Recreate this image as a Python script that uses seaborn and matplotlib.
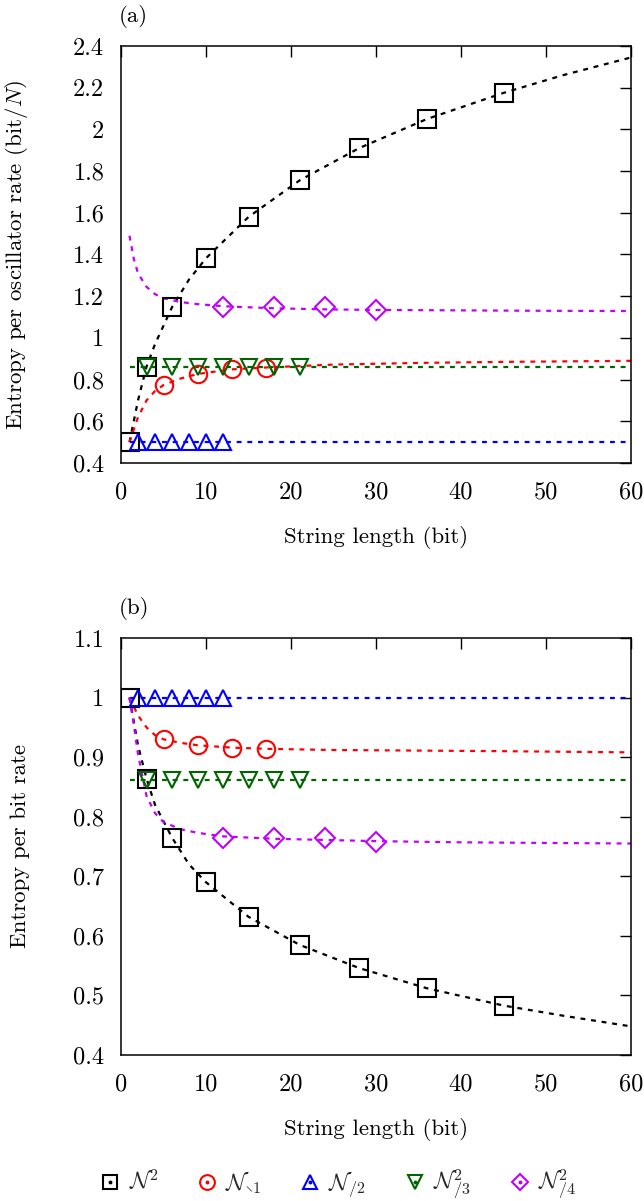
import numpy as np
import pandas as pd
import matplotlib
matplotlib.use("Agg")
import matplotlib.pyplot as plt
import seaborn as sns
from matplotlib.lines import Line2D
from matplotlib.legend_handler import HandlerTuple
from matplotlib.ticker import FuncFormatter, MultipleLocator

# ---------------- data ----------------
# N^2 (black squares)
sq_x = [1, 3, 6, 10, 15, 21, 28, 36, 45]
sq_a = [0.50, 0.862, 1.147, 1.382, 1.58, 1.755, 1.91, 2.05, 2.175]
sq_b = [1.00, 0.864, 0.765, 0.690, 0.632, 0.585, 0.546, 0.512, 0.483]
sq_cx = [1, 2, 3, 4, 6, 8, 10, 15, 21, 28, 36, 45, 52, 60]
sq_ca = [0.50, 0.70, 0.862, 0.97, 1.147, 1.28, 1.382, 1.58, 1.755, 1.91, 2.05, 2.175, 2.26, 2.345]
sq_cb = [1.00, 0.92, 0.864, 0.82, 0.765, 0.72, 0.690, 0.632, 0.585, 0.546, 0.512, 0.483, 0.466, 0.448]

# N_\1 (red circles)
ci_x = [5, 9, 13, 17]
ci_a = [0.774, 0.827, 0.849, 0.858]
ci_b = [0.930, 0.920, 0.915, 0.913]
ci_cx = [1, 2, 3, 4, 5, 7, 9, 13, 17, 25, 35, 45, 60]
ci_ca = [0.50, 0.62, 0.70, 0.745, 0.774, 0.805, 0.827, 0.849, 0.858, 0.872, 0.880, 0.885, 0.890]
ci_cb = [1.00, 0.97, 0.95, 0.937, 0.930, 0.924, 0.920, 0.916, 0.914, 0.912, 0.911, 0.910, 0.908]

# N_/2 (blue triangles)
tu_x = [2, 4, 6, 8, 10, 12]
tu_a = [0.5, 0.5, 0.5, 0.5, 0.5, 0.5]
tu_b = [1.0, 1.0, 1.0, 1.0, 1.0, 1.0]
tu_cx = [1, 60]
tu_ca = [0.5, 0.5]
tu_cb = [1.0, 1.0]

# N^2_/3 (green down triangles)
td_x = [3, 6, 9, 12, 15, 18, 21]
td_a = [0.862, 0.862, 0.862, 0.862, 0.862, 0.862, 0.862]
td_b = [0.862, 0.862, 0.862, 0.862, 0.862, 0.862, 0.862]
td_cx = [1, 60]
td_ca = [0.862, 0.862]
td_cb = [0.862, 0.862]

# N^2_/4 (magenta diamonds)
di_x = [12, 18, 24, 30]
di_a = [1.147, 1.150, 1.147, 1.132]
di_b = [0.765, 0.765, 0.764, 0.757]
di_cx = [1, 1.5, 2, 3, 4, 5, 7, 9, 12, 18, 24, 30, 40, 50, 60]
di_ca = [1.49, 1.38, 1.31, 1.245, 1.21, 1.19, 1.172, 1.162, 1.152, 1.142, 1.137, 1.134, 1.132, 1.130, 1.129]
di_cb = [1.00, 0.955, 0.905, 0.835, 0.806, 0.791, 0.779, 0.773, 0.767, 0.763, 0.761, 0.759, 0.757, 0.756, 0.755]

labels = [r"$\mathcal{N}^2$", r"$\mathcal{N}_{\setminus 1}$", r"$\mathcal{N}_{/2}$",
          r"$\mathcal{N}^2_{/3}$", r"$\mathcal{N}^2_{/4}$"]
ylabel_a = r"Entropy per oscillator rate (bit/$N$)"
ylabel_b = "Entropy per bit rate"
xlabel = "String length (bit)"

# ---------------- style ----------------
sns.set_theme(style="white")
plt.rcParams["font.family"] = ["cmr10", "DejaVu Serif"]
plt.rcParams["mathtext.fontset"] = "cm"
plt.rcParams["axes.unicode_minus"] = False

colors = ["#000000", "#ff0000", "#0000ff", "#006400", "#c000ff"]
markers = ["s", "o", "^", "v", "D"]
msizes = [12.5, 12.5, 11.5, 11.5, 10]
FS = 16.5
TFS = 17.5

series_a = [
    (sq_x, sq_a, sq_cx, sq_ca),
    (ci_x, ci_a, ci_cx, ci_ca),
    (tu_x, tu_a, tu_cx, tu_ca),
    (td_x, td_a, td_cx, td_ca),
    (di_x, di_a, di_cx, di_ca),
]
series_b = [
    (sq_x, sq_b, sq_cx, sq_cb),
    (ci_x, ci_b, ci_cx, ci_cb),
    (tu_x, tu_b, tu_cx, tu_cb),
    (td_x, td_b, td_cx, td_cb),
    (di_x, di_b, di_cx, di_cb),
]

fig = plt.figure(figsize=(6.44, 12.01), dpi=100)
ax_a = fig.add_axes([121 / 644, 1 - 463 / 1201, 510 / 644, 417 / 1201])
ax_b = fig.add_axes([121 / 644, 1 - 1055 / 1201, 510 / 644, 417 / 1201])

fmt = FuncFormatter(lambda v, p: "%g" % round(v, 6))


def draw(ax, series, ylim, ystep, ylabel, tag):
    for (mx, my, cx, cy), c, m, ms in zip(series, colors, markers, msizes):
        sns.lineplot(x=cx, y=cy, ax=ax, color=c, lw=1.6, linestyle=(0, (2.2, 2.6)),
                     estimator=None, sort=False, zorder=2)
        sns.lineplot(x=mx, y=my, ax=ax, color=c, linestyle="none", marker=m, ms=ms,
                     mfc="none", mec=c, mew=1.5, estimator=None, sort=False, zorder=3)
    ax.set_xlim(0, 60)
    ax.set_ylim(*ylim)
    ax.xaxis.set_major_locator(MultipleLocator(10))
    ax.yaxis.set_major_locator(MultipleLocator(ystep))
    ax.xaxis.set_major_formatter(fmt)
    ax.yaxis.set_major_formatter(fmt)
    ax.tick_params(axis="both", direction="in", top=True, right=True, length=8,
                   width=1.0, labelsize=TFS, color="black", labelcolor="black")
    ax.tick_params(axis="x", pad=13)
    ax.tick_params(axis="y", pad=12)
    for s in ax.spines.values():
        s.set_color("black")
        s.set_linewidth(1.1)
    ax.set_xlabel(xlabel, fontsize=FS, color="black")
    ax.xaxis.set_label_coords(0.5, -0.152)
    ax.set_ylabel(ylabel, fontsize=FS, color="black")
    ax.yaxis.set_label_coords(-0.178, 0.5)
    ax.text(-0.005, 1.07, tag, transform=ax.transAxes, fontsize=FS, ha="left", va="center",
            color="black")
    ax.grid(False)


draw(ax_a, series_a, (0.4, 2.4), 0.2, ylabel_a, "(a)")
draw(ax_b, series_b, (0.4, 1.1), 0.1, ylabel_b, "(b)")

handles = []
for c, m, ms in zip(colors, markers, msizes):
    h1 = Line2D([], [], color=c, linestyle="none", marker=m, ms=ms * 0.85, mfc="none",
                mec=c, mew=1.5)
    h2 = Line2D([], [], color=c, linestyle="none", marker="o", ms=1.8, mfc=c, mec=c)
    handles.append((h1, h2))

fig.legend(handles, labels, loc="center", bbox_to_anchor=(0.525, 1 - 1185 / 1201),
           ncol=5, frameon=False, fontsize=FS, handlelength=0.9, handletextpad=0.35,
           columnspacing=1.68, handler_map={tuple: HandlerTuple(ndivide=1)})

fig.savefig("out.png", dpi=100)
